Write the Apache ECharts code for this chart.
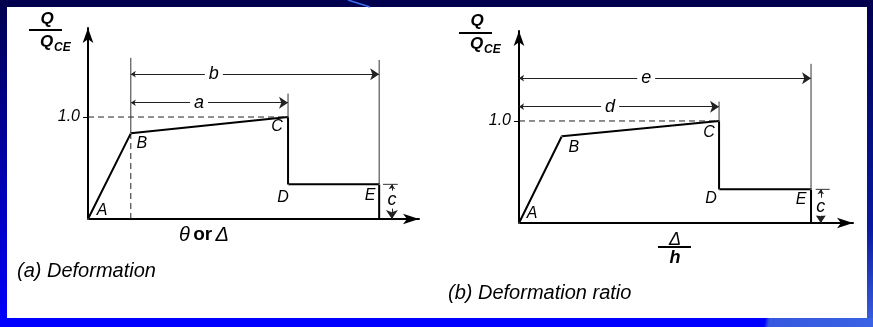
<!DOCTYPE html>
<html>
<head>
<meta charset="utf-8">
<script src="https://cdn.jsdelivr.net/npm/echarts@6.0.0/dist/echarts.min.js"></script>
<style>
  html, body { margin: 0; padding: 0; }
  #frame { position: relative; width: 873px; height: 327px; overflow: hidden;
    background: linear-gradient(to bottom, #00004f 0%, #0000ff 100%); }
  #top { position: absolute; left: 0; top: 0; width: 873px; height: 7px; background: #00004f; }
  #bottom { position: absolute; left: 0; top: 318px; width: 873px; height: 9px;
    background: linear-gradient(100deg, #0000ff 0%, #0000ff 87.5%, #3558de 88%, #3a62e4 100%); }
  #right { position: absolute; left: 867px; top: 0; width: 6px; height: 327px;
    background: linear-gradient(to bottom, #00004f 0%, #0a1aa0 70%, #3a62e4 100%); }
  #paper { position: absolute; left: 7px; top: 7px; width: 860px; height: 311px; background: #fff; }
  #chart { position: absolute; left: 0; top: 0; width: 873px; height: 327px; }
</style>
</head>
<body>
<div id="frame">
  <div id="top"></div>
  <div id="right"></div>
  <div id="bottom"></div>
  <div id="paper"></div>
  <div id="chart"></div>
</div>
<script>
// points A..E, then the foot of E on the axis
const pointNames = ['A', 'B', 'C', 'D', 'E'];

// (a) Deformation
const curveA = [[0, 0], [1.01, 0.84], [4.72, 1.0], [4.72, 0.34], [6.87, 0.34], [6.87, 0]];
const dashedA = [[[0, 1.0], [4.72, 1.0]], [[1.01, 0], [1.01, 0.84]]];
const extensionA = [[[1.01, 0.84], [1.01, 1.58]], [[4.72, 1.0], [4.72, 1.23]], [[6.87, 0.34], [6.87, 1.56]], [[6.96, 0.34], [7.31, 0.34]]];
const dimsA = [[[1.01, 1.42], [6.87, 1.42]], [[1.01, 1.14], [4.72, 1.14]], [[7.17, 0.34], [7.17, 0]]];
const dimLabelsA = [['b', 2.97, 1.42], ['a', 2.62, 1.14], ['c', 7.17, 0.19]];

// (b) Deformation ratio
const curveB = [[0, 0], [1.01, 0.85], [4.72, 1.0], [4.72, 0.33], [6.89, 0.33], [6.89, 0]];
const dashedB = [[[0, 1.0], [4.72, 1.0]]];
const extensionB = [[[4.72, 1.0], [4.72, 1.19]], [[6.89, 0.33], [6.89, 1.56]], [[7.0, 0.33], [7.33, 0.33]]];
const dimsB = [[[0, 1.42], [6.89, 1.42]], [[0, 1.14], [4.72, 1.14]], [[7.12, 0.33], [7.12, 0]]];
const dimLabelsB = [['e', 3.0, 1.42], ['d', 2.15, 1.14], ['c', 7.12, 0.16]];

const yTicks = [1.0];

// label nudges for A..E (px)
const offsetsA = [[14, -8], [11, 10], [-11, 10], [-5, 13], [-9, 11]];
const offsetsB = [[13, -9], [12, 11], [-10, 12], [-8, 9], [-10, 10]];

const ff = '"Liberation Sans", Arial, sans-serif';
const ink = '#000';

const chart = echarts.init(document.getElementById('chart'), null, { renderer: 'canvas' });

function xAxis(gi, max) {
  return {
    type: 'value', gridIndex: gi, min: 0, max: max,
    splitLine: { show: false }, axisTick: { show: false }, axisLabel: { show: false },
    axisLine: { show: true, lineStyle: { color: ink, width: 2 }, symbol: ['none', 'arrow'], symbolSize: [8, 16] }
  };
}

function yAxis(gi, max) {
  return {
    type: 'value', gridIndex: gi, min: 0, max: max,
    splitLine: { show: false },
    axisLine: { show: true, lineStyle: { color: ink, width: 2 }, symbol: ['none', 'arrow'], symbolSize: [8, 15] },
    axisTick: { show: true, customValues: yTicks, length: 5, lineStyle: { color: ink, width: 1 } },
    axisLabel: { customValues: yTicks, formatter: v => v.toFixed(1), fontStyle: 'italic', fontSize: 16, fontFamily: ff, color: ink, margin: 8 }
  };
}

function panelSeries(gi, curve, dashed, extension, dims, dimLabels, offsets) {
  const axes = { xAxisIndex: gi, yAxisIndex: gi };
  const list = [];
  list.push(Object.assign({
    type: 'line', data: curve, symbol: 'none', z: 5,
    lineStyle: { color: ink, width: 2 }
  }, axes));
  dashed.forEach(seg => list.push(Object.assign({
    type: 'line', data: seg, symbol: 'none', z: 3,
    lineStyle: { color: '#222', width: 1, type: [6, 4] }
  }, axes)));
  extension.forEach(seg => list.push(Object.assign({
    type: 'line', data: seg, symbol: 'none', z: 3,
    lineStyle: { color: '#333', width: 1 }
  }, axes)));
  list.push(Object.assign({
    type: 'lines', coordinateSystem: 'cartesian2d', z: 3,
    symbol: ['arrow', 'arrow'], symbolSize: [5, 9],
    lineStyle: { color: '#222', width: 1, opacity: 1 },
    data: dims.map(c => ({ coords: c }))
  }, axes));
  list.push(Object.assign({
    type: 'scatter', symbolSize: 1, z: 6, itemStyle: { color: '#fff', opacity: 1 },
    data: dimLabels.map(d => ({ name: d[0], value: [d[1], d[2]] })),
    label: {
      show: true, position: 'inside', formatter: '{b}', color: ink, opacity: 1,
      fontStyle: 'italic', fontSize: 18, fontFamily: ff,
      backgroundColor: '#fff', padding: [0, 4]
    }
  }, axes));
  list.push(Object.assign({
    type: 'scatter', symbolSize: 1, z: 6, itemStyle: { color: '#fff', opacity: 1 },
    data: pointNames.map((n, i) => ({
      name: n, value: curve[i],
      label: { offset: offsets[i] }
    })),
    label: {
      show: true, position: 'inside', formatter: '{b}', color: ink, opacity: 1,
      fontStyle: 'italic', fontSize: 16, fontFamily: ff
    }
  }, axes));
  return list;
}

function fracLabel(cx, topY, lineY, botY, lineX1, lineX2) {
  return [
    { type: 'text', x: cx, y: topY, z: 10,
      style: { text: 'Q', font: 'italic bold 17px ' + ff, fill: ink, align: 'center', verticalAlign: 'middle' } },
    { type: 'rect', z: 10, shape: { x: lineX1, y: lineY - 1, width: lineX2 - lineX1, height: 2 }, style: { fill: ink } },
    { type: 'text', x: cx - 7, y: botY, z: 10,
      style: { text: 'Q', font: 'italic bold 17px ' + ff, fill: ink, align: 'left', verticalAlign: 'middle' } },
    { type: 'text', x: cx + 7, y: botY + 6, z: 10,
      style: { text: 'CE', font: 'italic bold 12px ' + ff, fill: ink, align: 'left', verticalAlign: 'middle' } }
  ];
}

const option = {
  animation: false,
  backgroundColor: 'transparent',
  textStyle: { fontFamily: ff },
  title: [
    { text: '(a) Deformation', left: 17, top: 261, padding: 0,
      textStyle: { fontSize: 20, fontStyle: 'italic', fontWeight: 'normal', color: ink, fontFamily: ff } },
    { text: '(b) Deformation ratio', left: 448, top: 283, padding: 0,
      textStyle: { fontSize: 20, fontStyle: 'italic', fontWeight: 'normal', color: ink, fontFamily: ff } }
  ],
  grid: [
    { left: 88, top: 28, width: 331, height: 191, outerBoundsMode: 'none', containLabel: false },
    { left: 519, top: 31, width: 334, height: 192, outerBoundsMode: 'none', containLabel: false }
  ],
  xAxis: [xAxis(0, 7.81), xAxis(1, 7.88)],
  yAxis: [yAxis(0, 1.873), yAxis(1, 1.882)],
  series: [].concat(
    panelSeries(0, curveA, dashedA, extensionA, dimsA, dimLabelsA, offsetsA),
    panelSeries(1, curveB, dashedB, extensionB, dimsB, dimLabelsB, offsetsB)
  ),
  graphic: [].concat(
    fracLabel(47, 19, 30, 42, 29, 62),
    fracLabel(477, 21, 33, 44, 459, 492),
    [
      { type: 'text', x: 204, y: 235, z: 10,
        style: {
          text: '{i|θ} {b|or} {i|Δ}', align: 'center', verticalAlign: 'middle', fill: ink,
          rich: {
            i: { font: 'italic 20px ' + ff, fill: ink },
            b: { font: 'bold 19px ' + ff, fill: ink }
          }
        } },
      { type: 'text', x: 675, y: 240, z: 10,
        style: { text: 'Δ', font: 'italic 18px ' + ff, fill: ink, align: 'center', verticalAlign: 'middle' } },
      { type: 'rect', z: 10, shape: { x: 658, y: 246, width: 33, height: 2 }, style: { fill: ink } },
      { type: 'text', x: 675, y: 258, z: 10,
        style: { text: 'h', font: 'italic bold 18px ' + ff, fill: ink, align: 'center', verticalAlign: 'middle' } },
      { type: 'line', z: 10, shape: { x1: 348, y1: 0, x2: 370, y2: 7 }, style: { stroke: '#3a6cf0', lineWidth: 1.5 } }
    ]
  )
};

chart.setOption(option);
</script>
</body>
</html>
